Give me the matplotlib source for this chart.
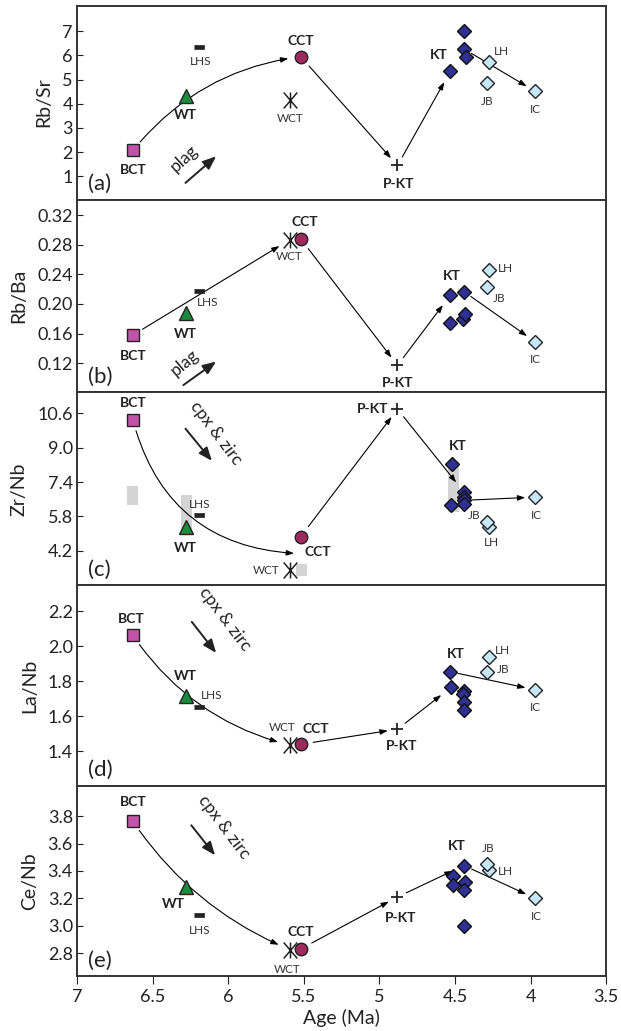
import matplotlib
matplotlib.use("Agg")
import matplotlib.pyplot as plt
from matplotlib.path import Path
from matplotlib.ticker import FormatStrFormatter

plt.rcParams['font.family'] = ['Lato', 'DejaVu Sans']

# units and their ages (Ma)
units = ["BCT", "WT", "LHS", "CCT", "WCT", "P-KT", "LH", "JB", "IC"]
ages = [6.63, 6.28, 6.19, 5.52, 5.59, 4.88, 4.275, 4.29, 3.97]

# ratio values per unit (same order as units)
rb_sr = [2.07, 4.34, 6.34, 5.95, 4.14, 1.45, 5.72, 4.85, 4.52]
rb_ba = [0.158, 0.188, 0.217, 0.288, 0.287, 0.117, 0.246, 0.223, 0.149]
zr_nb = [10.29, 5.30, 5.85, 4.86, 3.29, 10.80, 5.30, 5.53, 6.70]
la_nb = [2.063, 1.718, 1.653, 1.440, 1.434, 1.526, 1.939, 1.853, 1.752]
ce_nb = [3.763, 3.28, 3.078, 2.830, 2.824, 3.21, 3.405, 3.454, 3.20]

# KT samples
kt_age_a = [4.53, 4.44, 4.44, 4.43]
kt_a = [5.35, 7.02, 6.27, 5.92]
kt_age_b = [4.53, 4.44, 4.53, 4.445, 4.435]
kt_b = [0.212, 0.2166, 0.174, 0.179, 0.186]
kt_age_c = [4.52, 4.525, 4.44, 4.44, 4.44, 4.44]
kt_c = [8.24, 6.35, 6.93, 6.72, 6.55, 6.40]
kt_age_d = [4.53, 4.525, 4.44, 4.445, 4.44, 4.44]
kt_d = [1.855, 1.766, 1.743, 1.726, 1.680, 1.637]
kt_age_e = [4.44, 4.515, 4.51, 4.435, 4.44, 4.44]
kt_e = [3.44, 3.363, 3.30, 3.32, 3.26, 3.00]

# Zr/Nb ranges (grey bars)
range_age = [6.635, 6.275, 5.515, 4.51]
range_low = [6.35, 5.07, 3.03, 6.00]
range_high = [7.21, 6.78, 3.58, 8.18]

ylabels = ["Rb/Sr", "Rb/Ba", "Zr/Nb", "La/Nb", "Ce/Nb"]
letters = ["(a)", "(b)", "(c)", "(d)", "(e)"]
ylims = [(0.04, 8.06), (0.0805, 0.341), (2.59, 11.58), (1.2, 2.35), (2.632, 4.02)]
yticks = [[1, 2, 3, 4, 5, 6, 7],
          [0.12, 0.16, 0.20, 0.24, 0.28, 0.32],
          [4.2, 5.8, 7.4, 9.0, 10.6],
          [1.4, 1.6, 1.8, 2.0, 2.2],
          [2.8, 3.0, 3.2, 3.4, 3.6, 3.8]]
yfmt = ['%d', '%.2f', '%.1f', '%.1f', '%.1f']

panel_vals = [rb_sr, rb_ba, zr_nb, la_nb, ce_nb]
panel_kt_age = [kt_age_a, kt_age_b, kt_age_c, kt_age_d, kt_age_e]
panel_kt = [kt_a, kt_b, kt_c, kt_d, kt_e]

# first arrow: target unit and curvature
first_target = ["CCT", "WCT", "MID", "WCT", "WCT"]
first_rad = [-0.2, 0.0, 0.36, 0.19, 0.15]
kt_in = [0, 0, 2, 1, 0]
kt_out = [2, 1, 4, 0, 0]

# label offsets (points)
label_off = [
    {"BCT": (0, -14), "WT": (0, -14), "LHS": (1, -10), "CCT": (0, 11), "WCT": (0, -13),
     "P-KT": (1, -13), "KT": (-8, 12), "LH": (9, 8), "JB": (0, -13), "IC": (0, -13)},
    {"BCT": (0, -15), "WT": (0, -15), "LHS": (6, -8), "CCT": (3, 12), "WCT": (-1, -12),
     "P-KT": (0, -13), "KT": (1, 14), "LH": (12, 1), "JB": (9, -8), "IC": (0, -13)},
    {"BCT": (0, 12), "WT": (0, -15), "LHS": (0, 8), "CCT": (12, -11), "WCT": (-17, 0),
     "P-KT": (-18, 0), "KT": (4, 13), "LH": (2, -11), "JB": (-9, 5), "IC": (1, -13)},
    {"BCT": (-1, 12), "WT": (0, 14), "LHS": (9, 8), "CCT": (11, 11), "WCT": (-6, 13),
     "P-KT": (3, -12), "KT": (4, 13), "LH": (10, 5), "JB": (12, 2), "IC": (0, -13)},
    {"BCT": (0, 14), "WT": (-9, -12), "LHS": (0, -11), "CCT": (0, 12), "WCT": (-2, -14),
     "P-KT": (2, -15), "KT": (-5, 14), "LH": (12, -1), "JB": (1, 11), "IC": (1, -13)},
]

# mineral vector arrows (axes fraction)
vec_text = ["plag", "plag", "cpx & zirc", "cpx & zirc", "cpx & zirc"]
vec_start = [(0.205, 0.086), (0.201, 0.038), (0.205, 0.812), (0.217, 0.818), (0.216, 0.794)]
vec_end = [(0.263, 0.223), (0.263, 0.160), (0.255, 0.645), (0.263, 0.663), (0.261, 0.636)]
vec_txt_pos = [(0.203, 0.21), (0.203, 0.155), (0.262, 0.79), (0.280, 0.83), (0.277, 0.785)]
vec_rot = [42, 40, -53, -53, -53]

bold_units = {"BCT", "WT", "CCT", "P-KT", "KT"}
frame_col = '#333333'

fig = plt.figure(figsize=(6.21, 10.31), dpi=100)
gs = fig.add_gridspec(5, 1, height_ratios=[194, 193, 193, 201, 190], hspace=0,
                      left=0.124, right=0.976, top=0.9945, bottom=0.0533)

thin = dict(arrowstyle="-|>,head_length=0.45,head_width=0.16", color='black',
            lw=0.8, shrinkA=8, shrinkB=7)

star = Path([(0, -1), (0, 1), (-0.85, -1), (0.85, 1), (-0.85, 1), (0.85, -1)],
            [Path.MOVETO, Path.LINETO, Path.MOVETO, Path.LINETO, Path.MOVETO, Path.LINETO])

for i in range(5):
    ax = fig.add_subplot(gs[i])
    vals = panel_vals[i]
    pos = {u: (a, v) for u, a, v in zip(units, ages, vals)}
    kta = panel_kt_age[i]
    ktv = panel_kt[i]

    if i == 2:
        ax.bar(range_age, [h - l for h, l in zip(range_high, range_low)],
               bottom=range_low, width=0.072, color='#d4d4d4', zorder=1)

    # arrows
    start = pos["BCT"]
    if first_target[i] == "MID":
        end = ((pos["CCT"][0] + pos["WCT"][0]) / 2, (pos["CCT"][1] + pos["WCT"][1]) / 2)
        sb = 1
    else:
        end = pos[first_target[i]]
        sb = 9
    ax.annotate('', xy=end, xytext=start,
                arrowprops=dict(thin, shrinkA=8, shrinkB=sb,
                                connectionstyle="arc3,rad=%g" % first_rad[i]), zorder=2)
    ax.annotate('', xy=pos["P-KT"], xytext=pos["CCT"], arrowprops=dict(thin, shrinkA=9, shrinkB=7), zorder=2)
    ax.annotate('', xy=(kta[kt_in[i]], ktv[kt_in[i]]), xytext=pos["P-KT"],
                arrowprops=dict(thin, shrinkA=7, shrinkB=9), zorder=2)
    ax.annotate('', xy=pos["IC"], xytext=(kta[kt_out[i]], ktv[kt_out[i]]),
                arrowprops=dict(thin, shrinkA=6, shrinkB=7), zorder=2)

    # markers
    ax.plot(*pos["BCT"], marker='s', ms=9, mfc='#c254a8', mec='#222222', mew=1, zorder=5)
    ax.plot(*pos["WT"], marker='^', ms=10, mfc='#1d8a3e', mec='#222222', mew=1, zorder=5)
    ax.plot(*pos["LHS"], marker=[(-1, -0.4), (1, -0.4), (1, 0.4), (-1, 0.4)], ms=7,
            mfc='#222222', mec='#222222', mew=0.5, zorder=5)
    ax.plot(*pos["CCT"], marker='o', ms=9, mfc='#9c2a5c', mec='#222222', mew=1, zorder=5)
    ax.plot(*pos["WCT"], marker=star, ms=11.5, mfc='none', mec='#222222', mew=1.1, zorder=5)
    ax.plot(*pos["P-KT"], marker='+', ms=9, mec='#222222', mew=1.3, zorder=5)
    ax.plot(kta, ktv, ls='none', marker='D', ms=7.5, mfc='#2e3192', mec='#111111', mew=1, zorder=5)
    for u in ["LH", "JB", "IC"]:
        ax.plot(*pos[u], marker='D', ms=7.5, mfc='#c4e8f8', mec='#222222', mew=1, zorder=5)

    # labels
    offs = label_off[i]
    for u in units + ["KT"]:
        xy = (kta[0], ktv[0]) if u == "KT" else pos[u]
        dx, dy = offs[u]
        bold = u in bold_units
        ax.annotate(u, xy=xy, xytext=(dx, dy), textcoords='offset points',
                    ha='center', va='center', fontsize=10 if bold else 8.5,
                    fontweight='bold' if bold else 'normal',
                    color='#222222' if bold else '#333333', zorder=6)

    # mineral vector
    ax.annotate('', xy=vec_end[i], xytext=vec_start[i], xycoords='axes fraction',
                arrowprops=dict(arrowstyle="-|>,head_length=0.8,head_width=0.32",
                                color='#222222', lw=1.4, shrinkA=0, shrinkB=0))
    ax.text(*vec_txt_pos[i], vec_text[i], transform=ax.transAxes, rotation=vec_rot[i],
            ha='center', va='center', fontsize=12.5, color='#222222')

    ax.text(0.02, 0.08, letters[i], transform=ax.transAxes, ha='left', va='center',
            fontsize=16, color='#222222')

    ax.set_xlim(7, 3.5)
    ax.set_ylim(*ylims[i])
    ax.set_yticks(yticks[i])
    ax.yaxis.set_major_formatter(FormatStrFormatter(yfmt[i]))
    ax.set_ylabel(ylabels[i], fontsize=14, labelpad=7, color='#222222')
    ax.tick_params(axis='y', direction='in', length=4, labelsize=13, colors='#222222', pad=3)
    for s in ax.spines.values():
        s.set_linewidth(1.4)
        s.set_color(frame_col)
    ax.set_xticks([7, 6.5, 6, 5.5, 5, 4.5, 4, 3.5])
    if i < 4:
        ax.tick_params(axis='x', bottom=False, labelbottom=False)
    else:
        ax.xaxis.set_major_formatter(FormatStrFormatter('%g'))
        ax.tick_params(axis='x', direction='out', length=6, labelsize=13, colors='#222222')
        ax.set_xlabel("Age (Ma)", fontsize=14, color='#222222', labelpad=3)

fig.savefig("out.png", dpi=100)
